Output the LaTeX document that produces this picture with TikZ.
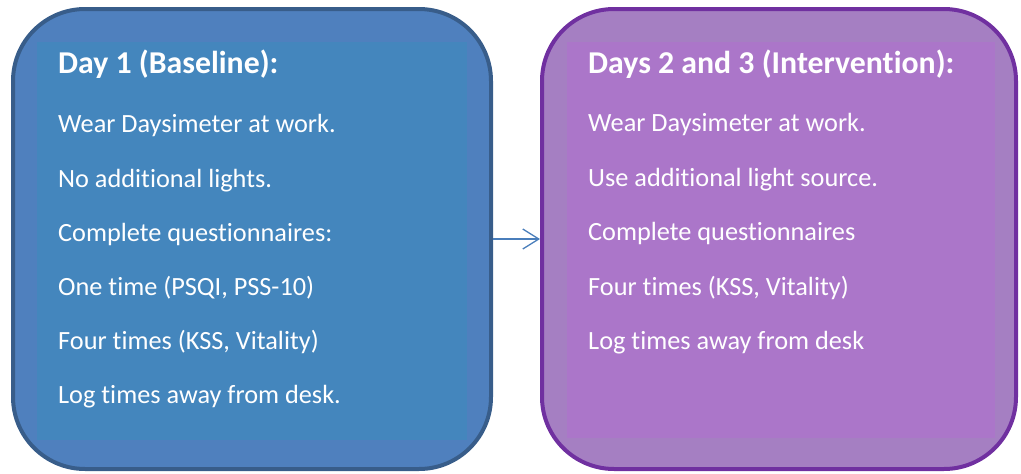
\documentclass[tikz,border=0pt]{standalone}
\usepackage{fontspec}
\setmainfont{Carlito}[Ligatures=NoCommon]
\usetikzlibrary{arrows.meta}

\definecolor{baseBorder}{HTML}{385D8A}
\definecolor{baseOuter}{HTML}{4F80BE}
\definecolor{baseInner}{HTML}{4486BD}
\definecolor{planBorder}{HTML}{7030A0}
\definecolor{planOuter}{HTML}{A57FC2}
\definecolor{planInner}{HTML}{AB76C9}
\definecolor{linkBlue}{HTML}{4A7EBB}

\tikzset{
  panel/.style={rounded corners=72pt, line width=4pt, inner sep=0pt},
  txt/.style={text=white, anchor=base west, inner sep=0pt,
    font=\fontsize{26.3}{31}\selectfont},
  head/.style={txt, font=\fontsize{31.8}{36}\selectfont\bfseries},
  link/.style={draw=linkBlue, line width=1.3pt,
    -{Straight Barb[length=16pt,width=20pt,line width=1.3pt]}}
}

\begin{document}
\begin{tikzpicture}[x=1pt,y=-1pt]
\useasboundingbox (0,0) rectangle (1021,474);

% Day 1 panel
\node[panel, draw=baseBorder, fill=baseOuter,
      minimum width=478pt, minimum height=460pt] (base) at (252,239) {};
\fill[baseInner] (37,42) rectangle (467,440);

% Days 2 and 3 panel
\node[panel, draw=planBorder, fill=planOuter,
      minimum width=474pt, minimum height=460pt] (plan) at (779,239) {};
\fill[planInner] (567,42) rectangle (995,438);

% connector between the panels
\draw[link] (base.east) -- (plan.west);

% Day 1 text
\node[head] (b0) at (58,73)  {Day 1 (Baseline):};
\node[txt]  (b1) at (58,132) {Wear Daysimeter at work.};
\node[txt]  (b2) at (58,187) {No additional lights.};
\node[txt]  (b3) at (58,241) {Complete questionnaires:};
\node[txt]  (b4) at (58,295) {One time (PSQI, PSS-10)};
\node[txt]  (b5) at (58,349) {Four times (KSS, Vitality)};
\node[txt]  (b6) at (58,403) {Log times away from desk.};

% Days 2 and 3 text
\node[head] (p0) at (588,73)  {Days 2 and 3 (Intervention):};
\node[txt]  (p1) at (588,131) {Wear Daysimeter at work.};
\node[txt]  (p2) at (588,186) {Use additional light source.};
\node[txt]  (p3) at (588,240) {Complete questionnaires};
\node[txt]  (p4) at (588,295) {Four times (KSS, Vitality)};
\node[txt]  (p5) at (588,349) {Log times away from desk};
\end{tikzpicture}
\end{document}
